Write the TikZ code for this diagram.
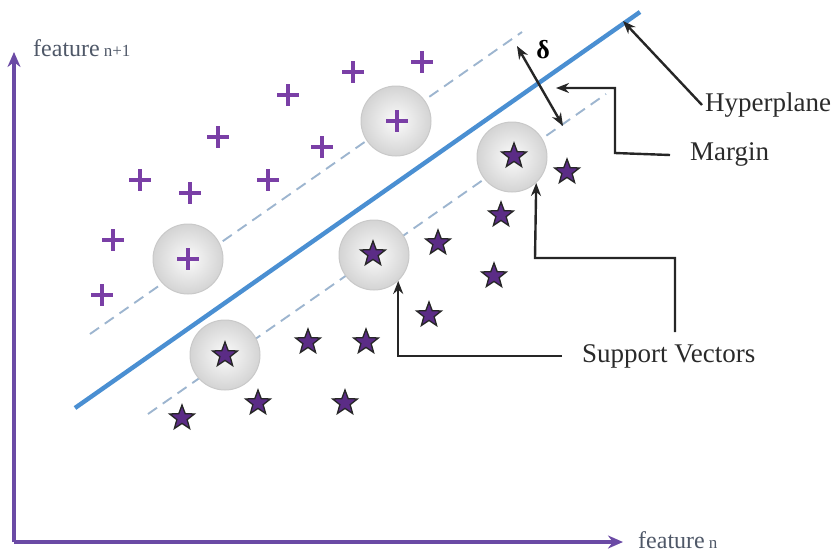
\documentclass[tikz,border=0pt]{standalone}
\usepackage{fontspec}
\setmainfont{Liberation Serif}
\usetikzlibrary{shapes.geometric,arrows.meta}
\definecolor{axispurple}{HTML}{6B4AA5}
\definecolor{pluspurple}{HTML}{7A3FA6}
\definecolor{starpurple}{HTML}{5B2C86}
\definecolor{hyperblue}{HTML}{4A8FD2}
\definecolor{marginblue}{HTML}{9DB5CF}
\definecolor{labelgray}{HTML}{2A2A2A}
\definecolor{featgray}{HTML}{4F5868}
\tikzset{
  axis/.style={draw=axispurple, line width=3.4pt, -{Stealth[length=15pt,width=13pt]}},
  hyper/.style={draw=hyperblue, line width=4.4pt},
  marginline/.style={draw=marginblue, line width=1.9pt, dash pattern=on 11pt off 7pt},
  ball/.style={circle, minimum size=70pt, inner sep=0pt, inner color=gray!3, outer color=gray!34, draw=gray!42, line width=1pt},
  plusmk/.style={minimum size=22pt, inner sep=0pt, path picture={
      \draw[line width=4pt, pluspurple]
        (path picture bounding box.north) -- (path picture bounding box.south)
        (path picture bounding box.west) -- (path picture bounding box.east);}},
  starmk/.style={star, star points=5, star point ratio=2.4, minimum size=26pt, inner sep=0pt,
      fill=starpurple, draw=black!85, line width=1.3pt},
  ptr/.style={draw=black!85, line width=2.4pt, -{Stealth[length=13pt,width=10pt]}},
  dblptr/.style={draw=black!85, line width=2.4pt, {Stealth[length=13pt,width=10pt]}-{Stealth[length=13pt,width=10pt]}},
  lbl/.style={text=labelgray, font=\fontsize{27}{30}\selectfont, inner sep=0pt},
  feat/.style={text=featgray, font=\fontsize{24}{28}\selectfont, inner sep=0pt},
}
\begin{document}
\begin{tikzpicture}[x=1pt, y=-1pt]
\useasboundingbox (0,0) rectangle (835,552);

% axes
\coordinate (origin) at (14,542);
\coordinate (ytip) at (14,52);
\coordinate (xtip) at (623,542);
\draw[axis] (origin) -- (ytip);
\draw[axis] (origin) -- (xtip);
\node[feat, anchor=base west] (fy) at (33,56) {feature\,{\fontsize{17}{20}\selectfont n+1}};
\node[feat, anchor=base west] (fx) at (638,548) {feature\,{\fontsize{17}{20}\selectfont n}};

% margin boundaries and hyperplane
\coordinate (ua) at (90,334);
\coordinate (ub) at (522,32);
\coordinate (la) at (148,414);
\coordinate (lb) at (606,94);
\draw[marginline] (ua) -- (ub);
\draw[marginline] (la) -- (lb);
\coordinate (hpa) at (75,408);
\coordinate (hpb) at (640,12);
\draw[hyper] (hpa) -- (hpb);

% support vectors
\node[ball] (svA) at (188,259) {};
\node[ball] (svB) at (396,121) {};
\node[ball] (svC) at (512,157) {};
\node[ball] (svD) at (374,255) {};
\node[ball] (svE) at (225,355) {};

% class +1
\foreach \n/\p in {a/{(140,180)}, b/{(113,240)}, c/{(102,295)}, d/{(190,193)}, e/{(218,137)},
                   f/{(268,180)}, g/{(288,95)}, h/{(322,147)}, i/{(353,72)}, j/{(422,62)},
                   k/{(188,259)}, l/{(397,121)}}
  \node[plusmk] (plus\n) at \p {};

% class -1
\foreach \n/\p in {a/{(567,172)}, b/{(501,215)}, c/{(438,243)}, d/{(494,276)}, e/{(429,315)},
                   f/{(308,342)}, g/{(366,342)}, h/{(182,418)}, i/{(258,403)}, j/{(345,403)},
                   k/{(514,156)}, l/{(373,254)}, m/{(225,355)}}
  \node[starmk] (star\n) at \p {};

% margin width
\coordinate (dA) at (517,46);
\coordinate (dB) at (563,126);
\draw[dblptr] (dA) -- (dB);
\node[text=black, font=\bfseries\fontsize{26}{28}\selectfont, inner sep=0pt] (delta) at (543,50) {δ};

% labels
\node[lbl, anchor=west] (hyperlbl) at (705,105) {Hyperplane};
\coordinate (hptip) at (623,21);
\draw[ptr] ([xshift=-3pt]hyperlbl.west) -- (hptip);

\node[lbl, anchor=west] (marginlbl) at (690,154) {Margin};
\coordinate (mbend) at (615,153);
\coordinate (mtip) at (556,88);
\draw[ptr] ([xshift=-20pt,yshift=-1pt]marginlbl.west) -- (mbend) |- (mtip);

\node[lbl, anchor=west] (svlbl) at (582,356) {Support Vectors};
\draw[ptr] ([xshift=-20pt]svlbl.west) -| (svD.-47);
\coordinate (svup) at (675,332);
\coordinate (svturn) at (535,258);
\draw[ptr] (svup) |- (svturn) -- (svC.-47);
\end{tikzpicture}
\end{document}
